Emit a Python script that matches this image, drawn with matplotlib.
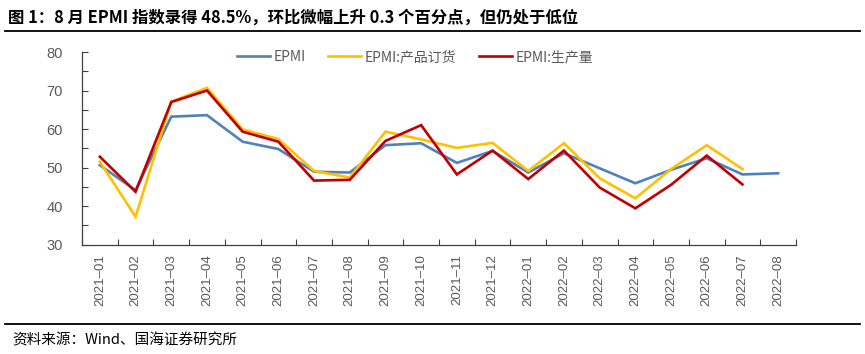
import matplotlib
matplotlib.use("Agg")
import matplotlib.pyplot as plt
from matplotlib.lines import Line2D
import numpy as np

plt.rcParams['font.family'] = ['Noto Sans CJK SC', 'DejaVu Sans']

months = ["2021-01", "2021-02", "2021-03", "2021-04", "2021-05", "2021-06", "2021-07",
          "2021-08", "2021-09", "2021-10", "2021-11", "2021-12", "2022-01", "2022-02",
          "2022-03", "2022-04", "2022-05", "2022-06", "2022-07", "2022-08"]
epmi = [50.6, 44.1, 63.2, 63.6, 56.7, 54.8, 48.9, 48.7, 55.8, 56.3, 51.2, 54.3,
        48.7, 53.7, 49.8, 45.9, 49.4, 52.4, 48.2, 48.5]
orders = [51.5, 37.2, 67.1, 70.7, 59.9, 57.4, 49.1, 47.4, 59.3, 57.3, 55.1, 56.4,
          49.1, 56.3, 47.2, 42.0, 49.6, 55.8, 49.6, np.nan]
production = [52.8, 43.7, 67.0, 70.0, 59.3, 56.7, 46.6, 46.8, 56.9, 61.0, 48.2, 54.4,
              47.0, 54.4, 44.8, 39.4, 45.5, 53.1, 45.6, np.nan]
series_names = ["EPMI", "EPMI:产品订货", "EPMI:生产量"]
colors = ["#4f81bd", "#ffc000", "#c00000"]
title = "图 1：8 月 EPMI 指数录得 48.5%，环比微幅上升 0.3 个百分点，但仍处于低位"
source = "资料来源：Wind、国海证券研究所"

fig = plt.figure(figsize=(8.65, 3.54), dpi=100)
ax = fig.add_axes([82/865, 1-244.5/354, (796-82)/865, (244.5-52)/354])

x = np.arange(len(months))
for vals, c, name in zip([epmi, orders, production], colors, series_names):
    ax.plot(x, vals, color=c, lw=1.9, label=name, solid_joinstyle='miter')

ax.set_ylim(30, 80)
ax.set_xlim(-0.5, len(months) - 0.5)
ax.set_yticks(np.arange(30, 81, 10))
ax.set_yticks(np.arange(30, 81, 5), minor=True)
ax.set_xticks(x)
ax.set_xticklabels([m.replace('-', '–') for m in months], rotation=90, fontsize=9.5,
                   color="#595959", fontfamily=['Liberation Sans', 'DejaVu Sans'])
ax.set_xticks(np.arange(-0.5, len(months), 1), minor=True)
ax.tick_params(axis='x', which='major', length=0, pad=7)
ax.tick_params(axis='x', which='minor', direction='in', length=4, width=0.8, color="#404040")
ax.tick_params(axis='y', which='both', direction='in', length=4, width=0.8, color="#404040")
ax.tick_params(axis='y', which='major', labelsize=10.5, labelcolor="#595959", pad=14)
for lab in ax.get_yticklabels():
    lab.set_fontfamily(['Liberation Sans', 'DejaVu Sans'])
for s in ['top', 'right']:
    ax.spines[s].set_visible(False)
for s in ['left', 'bottom']:
    ax.spines[s].set_color("#404040")
    ax.spines[s].set_linewidth(0.9)

leg = ax.legend(loc='center left', bbox_to_anchor=(237/865, 1-57/354),
                bbox_transform=fig.transFigure, ncol=3, frameon=False,
                fontsize=10, handlelength=2.4, columnspacing=1.6, handletextpad=0.25,
                borderpad=0, borderaxespad=0)
for t in leg.get_texts():
    t.set_color("#595959")

fig.text(8/865, 1-18/354, title, fontsize=11.8, fontweight='bold', va='center', ha='left')
fig.add_artist(Line2D([5/865, 860/865], [1-31/354, 1-31/354], color='black', lw=1.3))
fig.add_artist(Line2D([5/865, 860/865], [1-324/354, 1-324/354], color='black', lw=1.3))
fig.text(12/865, 1-340/354, source, fontsize=10.5, va='center', ha='left')

fig.savefig("out.png", dpi=100)
